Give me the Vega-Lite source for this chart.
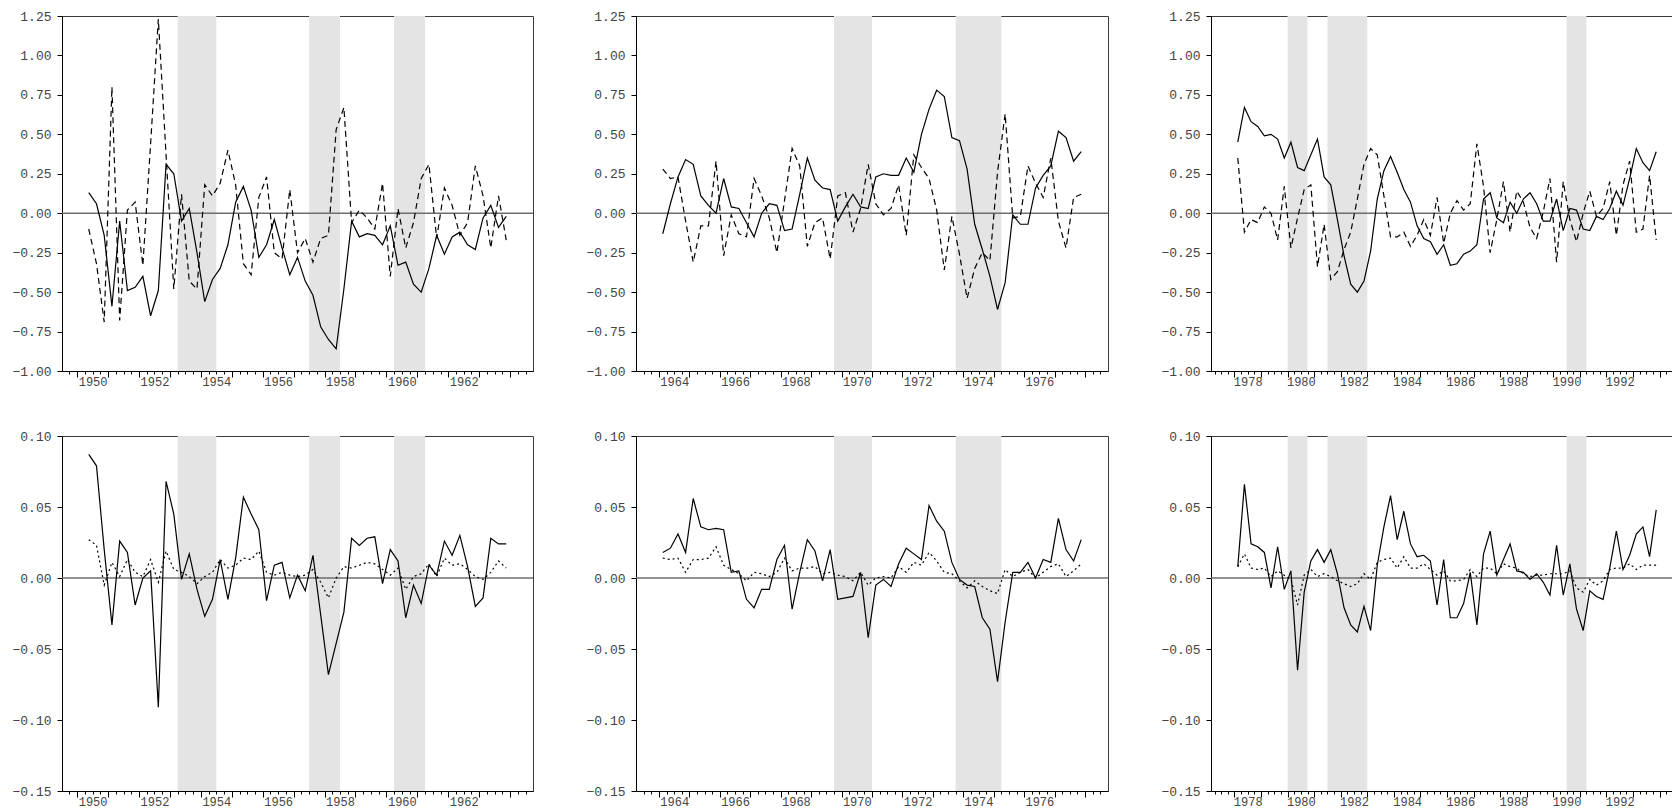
{
  "$schema": "https://vega.github.io/schema/vega-lite/v6.json",
  "padding": {"left": 5, "top": 9, "right": 0, "bottom": 0},
  "background": "white",
  "config": {
    "view": {"stroke": "#3c3c3c", "strokeWidth": 1},
    "axis": {"labelFont": "Liberation Mono", "labelColor": "#444444", "domainColor": "#000000", "tickColor": "#000000", "grid": false, "title": null, "labelOverlap": false},
    "line": {"color": "#000000", "strokeWidth": 1.2}
  },
  "datasets": {
    "rec": [
      {"p": 1, "start": 1953.25, "end": 1954.5},
      {"p": 1, "start": 1957.5, "end": 1958.5},
      {"p": 1, "start": 1960.25, "end": 1961.25},
      {"p": 2, "start": 1969.75, "end": 1971.0},
      {"p": 2, "start": 1973.75, "end": 1975.25},
      {"p": 3, "start": 1980.0, "end": 1980.75},
      {"p": 3, "start": 1981.5, "end": 1983.0},
      {"p": 3, "start": 1990.5, "end": 1991.25}
    ],
    "s": [
      {"p":1,"t":1950.375,"a":0.13,"b":-0.10,"c":0.087,"d":0.027},
      {"p":1,"t":1950.625,"a":0.06,"b":-0.32,"c":0.079,"d":0.023},
      {"p":1,"t":1950.875,"a":-0.14,"b":-0.69,"c":0.02,"d":-0.005},
      {"p":1,"t":1951.125,"a":-0.59,"b":0.80,"c":-0.033,"d":0.011},
      {"p":1,"t":1951.375,"a":-0.05,"b":-0.68,"c":0.026,"d":0.001},
      {"p":1,"t":1951.625,"a":-0.49,"b":0.02,"c":0.018,"d":0.013},
      {"p":1,"t":1951.875,"a":-0.47,"b":0.07,"c":-0.019,"d":0.004},
      {"p":1,"t":1952.125,"a":-0.40,"b":-0.33,"c":0.000,"d":0.001},
      {"p":1,"t":1952.375,"a":-0.65,"b":0.44,"c":0.005,"d":0.013},
      {"p":1,"t":1952.625,"a":-0.49,"b":1.23,"c":-0.091,"d":-0.003},
      {"p":1,"t":1952.875,"a":0.31,"b":0.37,"c":0.068,"d":0.019},
      {"p":1,"t":1953.125,"a":0.25,"b":-0.48,"c":0.045,"d":0.006},
      {"p":1,"t":1953.375,"a":-0.05,"b":0.12,"c":-0.001,"d":0.004},
      {"p":1,"t":1953.625,"a":0.03,"b":-0.43,"c":0.017,"d":0.001},
      {"p":1,"t":1953.875,"a":-0.25,"b":-0.48,"c":-0.008,"d":-0.004},
      {"p":1,"t":1954.125,"a":-0.56,"b":0.18,"c":-0.027,"d":0.001},
      {"p":1,"t":1954.375,"a":-0.42,"b":0.11,"c":-0.015,"d":0.004},
      {"p":1,"t":1954.625,"a":-0.35,"b":0.19,"c":0.013,"d":0.013},
      {"p":1,"t":1954.875,"a":-0.20,"b":0.40,"c":-0.015,"d":0.007},
      {"p":1,"t":1955.125,"a":0.07,"b":0.18,"c":0.014,"d":0.009},
      {"p":1,"t":1955.375,"a":0.17,"b":-0.32,"c":0.057,"d":0.014},
      {"p":1,"t":1955.625,"a":0.02,"b":-0.39,"c":0.045,"d":0.013},
      {"p":1,"t":1955.875,"a":-0.28,"b":0.10,"c":0.034,"d":0.019},
      {"p":1,"t":1956.125,"a":-0.20,"b":0.23,"c":-0.016,"d":0.004},
      {"p":1,"t":1956.375,"a":-0.04,"b":-0.25,"c":0.009,"d":0.002},
      {"p":1,"t":1956.625,"a":-0.22,"b":-0.29,"c":0.011,"d":0.004},
      {"p":1,"t":1956.875,"a":-0.39,"b":0.15,"c":-0.014,"d":0.002},
      {"p":1,"t":1957.125,"a":-0.28,"b":-0.25,"c":0.002,"d":0.001},
      {"p":1,"t":1957.375,"a":-0.43,"b":-0.16,"c":-0.009,"d":0.002},
      {"p":1,"t":1957.625,"a":-0.52,"b":-0.31,"c":0.016,"d":0.006},
      {"p":1,"t":1957.875,"a":-0.72,"b":-0.16,"c":-0.026,"d":-0.003},
      {"p":1,"t":1958.125,"a":-0.80,"b":-0.14,"c":-0.068,"d":-0.014},
      {"p":1,"t":1958.375,"a":-0.86,"b":0.53,"c":-0.046,"d":0.000},
      {"p":1,"t":1958.625,"a":-0.48,"b":0.67,"c":-0.024,"d":0.008},
      {"p":1,"t":1958.875,"a":-0.05,"b":-0.06,"c":0.028,"d":0.007},
      {"p":1,"t":1959.125,"a":-0.15,"b":0.02,"c":0.023,"d":0.009},
      {"p":1,"t":1959.375,"a":-0.13,"b":-0.03,"c":0.028,"d":0.011},
      {"p":1,"t":1959.625,"a":-0.14,"b":-0.10,"c":0.029,"d":0.010},
      {"p":1,"t":1959.875,"a":-0.20,"b":0.19,"c":-0.004,"d":0.006},
      {"p":1,"t":1960.125,"a":-0.08,"b":-0.40,"c":0.020,"d":0.002},
      {"p":1,"t":1960.375,"a":-0.33,"b":0.03,"c":0.012,"d":0.007},
      {"p":1,"t":1960.625,"a":-0.31,"b":-0.22,"c":-0.028,"d":-0.008},
      {"p":1,"t":1960.875,"a":-0.45,"b":-0.06,"c":-0.005,"d":0.001},
      {"p":1,"t":1961.125,"a":-0.50,"b":0.22,"c":-0.018,"d":0.003},
      {"p":1,"t":1961.375,"a":-0.35,"b":0.31,"c":0.009,"d":0.010},
      {"p":1,"t":1961.625,"a":-0.14,"b":-0.16,"c":0.002,"d":0.001},
      {"p":1,"t":1961.875,"a":-0.26,"b":0.16,"c":0.026,"d":0.014},
      {"p":1,"t":1962.125,"a":-0.15,"b":0.05,"c":0.016,"d":0.009},
      {"p":1,"t":1962.375,"a":-0.12,"b":-0.14,"c":0.030,"d":0.010},
      {"p":1,"t":1962.625,"a":-0.20,"b":-0.06,"c":0.008,"d":0.006},
      {"p":1,"t":1962.875,"a":-0.23,"b":0.30,"c":-0.020,"d":0.001},
      {"p":1,"t":1963.125,"a":-0.03,"b":0.11,"c":-0.014,"d":-0.001},
      {"p":1,"t":1963.375,"a":0.05,"b":-0.22,"c":0.028,"d":0.004},
      {"p":1,"t":1963.625,"a":-0.09,"b":0.11,"c":0.024,"d":0.012},
      {"p":1,"t":1963.875,"a":-0.02,"b":-0.17,"c":0.024,"d":0.007},
      {"p":2,"t":1964.125,"a":-0.13,"b":0.28,"c":0.018,"d":0.014},
      {"p":2,"t":1964.375,"a":0.06,"b":0.22,"c":0.021,"d":0.013},
      {"p":2,"t":1964.625,"a":0.23,"b":0.23,"c":0.031,"d":0.014},
      {"p":2,"t":1964.875,"a":0.34,"b":-0.05,"c":0.018,"d":0.004},
      {"p":2,"t":1965.125,"a":0.31,"b":-0.31,"c":0.056,"d":0.013},
      {"p":2,"t":1965.375,"a":0.11,"b":-0.08,"c":0.036,"d":0.013},
      {"p":2,"t":1965.625,"a":0.05,"b":-0.08,"c":0.034,"d":0.014},
      {"p":2,"t":1965.875,"a":0.00,"b":0.33,"c":0.035,"d":0.022},
      {"p":2,"t":1966.125,"a":0.22,"b":-0.27,"c":0.034,"d":0.009},
      {"p":2,"t":1966.375,"a":0.04,"b":-0.01,"c":0.004,"d":0.006},
      {"p":2,"t":1966.625,"a":0.03,"b":-0.13,"c":0.005,"d":0.003},
      {"p":2,"t":1966.875,"a":-0.06,"b":-0.15,"c":-0.015,"d":-0.002},
      {"p":2,"t":1967.125,"a":-0.15,"b":0.22,"c":-0.021,"d":0.004},
      {"p":2,"t":1967.375,"a":0.00,"b":0.11,"c":-0.008,"d":0.003},
      {"p":2,"t":1967.625,"a":0.06,"b":-0.03,"c":-0.008,"d":0.001},
      {"p":2,"t":1967.875,"a":0.05,"b":-0.25,"c":0.013,"d":0.004},
      {"p":2,"t":1968.125,"a":-0.11,"b":0.08,"c":0.023,"d":0.014},
      {"p":2,"t":1968.375,"a":-0.10,"b":0.41,"c":-0.022,"d":0.005},
      {"p":2,"t":1968.625,"a":0.12,"b":0.30,"c":0.004,"d":0.007},
      {"p":2,"t":1968.875,"a":0.35,"b":-0.21,"c":0.027,"d":0.007},
      {"p":2,"t":1969.125,"a":0.21,"b":-0.06,"c":0.019,"d":0.008},
      {"p":2,"t":1969.375,"a":0.16,"b":-0.03,"c":-0.002,"d":0.003},
      {"p":2,"t":1969.625,"a":0.15,"b":-0.29,"c":0.020,"d":0.004},
      {"p":2,"t":1969.875,"a":-0.05,"b":0.11,"c":-0.015,"d":0.002},
      {"p":2,"t":1970.125,"a":0.04,"b":0.13,"c":-0.014,"d":0.001},
      {"p":2,"t":1970.375,"a":0.12,"b":-0.12,"c":-0.013,"d":-0.002},
      {"p":2,"t":1970.625,"a":0.04,"b":0.03,"c":0.004,"d":0.004},
      {"p":2,"t":1970.875,"a":0.03,"b":0.31,"c":-0.042,"d":-0.005},
      {"p":2,"t":1971.125,"a":0.23,"b":0.06,"c":-0.005,"d":0.000},
      {"p":2,"t":1971.375,"a":0.25,"b":-0.01,"c":-0.001,"d":0.001},
      {"p":2,"t":1971.625,"a":0.24,"b":0.03,"c":-0.006,"d":0.000},
      {"p":2,"t":1971.875,"a":0.24,"b":0.18,"c":0.010,"d":0.008},
      {"p":2,"t":1972.125,"a":0.35,"b":-0.14,"c":0.021,"d":0.004},
      {"p":2,"t":1972.375,"a":0.26,"b":0.37,"c":0.017,"d":0.011},
      {"p":2,"t":1972.625,"a":0.50,"b":0.29,"c":0.013,"d":0.009},
      {"p":2,"t":1972.875,"a":0.66,"b":0.22,"c":0.051,"d":0.018},
      {"p":2,"t":1973.125,"a":0.78,"b":0.02,"c":0.040,"d":0.012},
      {"p":2,"t":1973.375,"a":0.74,"b":-0.36,"c":0.033,"d":0.004},
      {"p":2,"t":1973.625,"a":0.48,"b":-0.02,"c":0.011,"d":0.003},
      {"p":2,"t":1973.875,"a":0.46,"b":-0.26,"c":-0.001,"d":-0.002},
      {"p":2,"t":1974.125,"a":0.28,"b":-0.54,"c":-0.005,"d":-0.007},
      {"p":2,"t":1974.375,"a":-0.07,"b":-0.35,"c":-0.006,"d":-0.002},
      {"p":2,"t":1974.625,"a":-0.23,"b":-0.25,"c":-0.028,"d":-0.006},
      {"p":2,"t":1974.875,"a":-0.40,"b":-0.30,"c":-0.036,"d":-0.009},
      {"p":2,"t":1975.125,"a":-0.61,"b":0.26,"c":-0.073,"d":-0.011},
      {"p":2,"t":1975.375,"a":-0.44,"b":0.63,"c":-0.031,"d":0.006},
      {"p":2,"t":1975.625,"a":-0.01,"b":-0.03,"c":0.004,"d":0.001},
      {"p":2,"t":1975.875,"a":-0.07,"b":-0.02,"c":0.004,"d":0.004},
      {"p":2,"t":1976.125,"a":-0.07,"b":0.30,"c":0.011,"d":0.006},
      {"p":2,"t":1976.375,"a":0.16,"b":0.19,"c":0.000,"d":0.000},
      {"p":2,"t":1976.625,"a":0.24,"b":0.10,"c":0.013,"d":0.004},
      {"p":2,"t":1976.875,"a":0.30,"b":0.35,"c":0.011,"d":0.008},
      {"p":2,"t":1977.125,"a":0.52,"b":-0.05,"c":0.042,"d":0.010},
      {"p":2,"t":1977.375,"a":0.48,"b":-0.22,"c":0.020,"d":0.001},
      {"p":2,"t":1977.625,"a":0.33,"b":0.10,"c":0.012,"d":0.005},
      {"p":2,"t":1977.875,"a":0.39,"b":0.12,"c":0.027,"d":0.010},
      {"p":3,"t":1978.125,"a":0.45,"b":0.35,"c":0.008,"d":0.008},
      {"p":3,"t":1978.375,"a":0.67,"b":-0.12,"c":0.066,"d":0.017},
      {"p":3,"t":1978.625,"a":0.58,"b":-0.04,"c":0.024,"d":0.007},
      {"p":3,"t":1978.875,"a":0.55,"b":-0.06,"c":0.022,"d":0.006},
      {"p":3,"t":1979.125,"a":0.49,"b":0.04,"c":0.018,"d":0.007},
      {"p":3,"t":1979.375,"a":0.50,"b":0.00,"c":-0.007,"d":0.001},
      {"p":3,"t":1979.625,"a":0.47,"b":-0.17,"c":0.022,"d":0.005},
      {"p":3,"t":1979.875,"a":0.35,"b":0.17,"c":-0.008,"d":0.002},
      {"p":3,"t":1980.125,"a":0.45,"b":-0.22,"c":0.005,"d":-0.001},
      {"p":3,"t":1980.375,"a":0.29,"b":-0.03,"c":-0.065,"d":-0.019},
      {"p":3,"t":1980.625,"a":0.27,"b":0.15,"c":-0.010,"d":0.002},
      {"p":3,"t":1980.875,"a":0.37,"b":0.18,"c":0.012,"d":0.006},
      {"p":3,"t":1981.125,"a":0.47,"b":-0.34,"c":0.020,"d":0.001},
      {"p":3,"t":1981.375,"a":0.23,"b":-0.07,"c":0.011,"d":0.003},
      {"p":3,"t":1981.625,"a":0.18,"b":-0.42,"c":0.020,"d":0.001},
      {"p":3,"t":1981.875,"a":-0.04,"b":-0.37,"c":0.003,"d":-0.002},
      {"p":3,"t":1982.125,"a":-0.27,"b":-0.23,"c":-0.021,"d":-0.004},
      {"p":3,"t":1982.375,"a":-0.45,"b":-0.12,"c":-0.033,"d":-0.006},
      {"p":3,"t":1982.625,"a":-0.50,"b":0.09,"c":-0.038,"d":-0.004},
      {"p":3,"t":1982.875,"a":-0.43,"b":0.31,"c":-0.020,"d":0.003},
      {"p":3,"t":1983.125,"a":-0.24,"b":0.41,"c":-0.037,"d":-0.001},
      {"p":3,"t":1983.375,"a":0.09,"b":0.37,"c":0.009,"d":0.011},
      {"p":3,"t":1983.625,"a":0.27,"b":0.11,"c":0.036,"d":0.013},
      {"p":3,"t":1983.875,"a":0.36,"b":-0.15,"c":0.058,"d":0.014},
      {"p":3,"t":1984.125,"a":0.26,"b":-0.15,"c":0.027,"d":0.007},
      {"p":3,"t":1984.375,"a":0.15,"b":-0.12,"c":0.047,"d":0.015},
      {"p":3,"t":1984.625,"a":0.07,"b":-0.21,"c":0.024,"d":0.007},
      {"p":3,"t":1984.875,"a":-0.08,"b":-0.14,"c":0.015,"d":0.007},
      {"p":3,"t":1985.125,"a":-0.16,"b":-0.04,"c":0.016,"d":0.010},
      {"p":3,"t":1985.375,"a":-0.18,"b":-0.14,"c":0.012,"d":0.006},
      {"p":3,"t":1985.625,"a":-0.26,"b":0.10,"c":-0.019,"d":0.002},
      {"p":3,"t":1985.875,"a":-0.20,"b":-0.19,"c":0.013,"d":0.005},
      {"p":3,"t":1986.125,"a":-0.33,"b":0.00,"c":-0.028,"d":-0.002},
      {"p":3,"t":1986.375,"a":-0.32,"b":0.08,"c":-0.028,"d":-0.002},
      {"p":3,"t":1986.625,"a":-0.26,"b":0.02,"c":-0.018,"d":-0.001},
      {"p":3,"t":1986.875,"a":-0.24,"b":0.06,"c":0.004,"d":0.006},
      {"p":3,"t":1987.125,"a":-0.20,"b":0.44,"c":-0.033,"d":0.001},
      {"p":3,"t":1987.375,"a":0.09,"b":0.17,"c":0.017,"d":0.007},
      {"p":3,"t":1987.625,"a":0.13,"b":-0.25,"c":0.033,"d":0.007},
      {"p":3,"t":1987.875,"a":-0.03,"b":-0.04,"c":0.002,"d":0.003},
      {"p":3,"t":1988.125,"a":-0.06,"b":0.20,"c":0.013,"d":0.010},
      {"p":3,"t":1988.375,"a":0.07,"b":-0.12,"c":0.024,"d":0.008},
      {"p":3,"t":1988.625,"a":0.00,"b":0.14,"c":0.005,"d":0.007},
      {"p":3,"t":1988.875,"a":0.09,"b":0.07,"c":0.004,"d":0.003},
      {"p":3,"t":1989.125,"a":0.13,"b":-0.09,"c":-0.001,"d":0.001},
      {"p":3,"t":1989.375,"a":0.06,"b":-0.16,"c":0.003,"d":0.002},
      {"p":3,"t":1989.625,"a":-0.05,"b":0.01,"c":-0.003,"d":0.002},
      {"p":3,"t":1989.875,"a":-0.05,"b":0.22,"c":-0.012,"d":0.003},
      {"p":3,"t":1990.125,"a":0.09,"b":-0.31,"c":0.023,"d":0.003},
      {"p":3,"t":1990.375,"a":-0.11,"b":0.20,"c":-0.012,"d":0.003},
      {"p":3,"t":1990.625,"a":0.03,"b":-0.04,"c":0.010,"d":0.005},
      {"p":3,"t":1990.875,"a":0.02,"b":-0.18,"c":-0.022,"d":-0.007},
      {"p":3,"t":1991.125,"a":-0.10,"b":0.00,"c":-0.037,"d":-0.010},
      {"p":3,"t":1991.375,"a":-0.11,"b":0.14,"c":-0.009,"d":-0.001},
      {"p":3,"t":1991.625,"a":-0.02,"b":-0.02,"c":-0.013,"d":-0.005},
      {"p":3,"t":1991.875,"a":-0.04,"b":0.03,"c":-0.015,"d":-0.002},
      {"p":3,"t":1992.125,"a":0.03,"b":0.20,"c":0.007,"d":0.006},
      {"p":3,"t":1992.375,"a":0.14,"b":-0.14,"c":0.033,"d":0.007},
      {"p":3,"t":1992.625,"a":0.05,"b":0.18,"c":0.006,"d":0.007},
      {"p":3,"t":1992.875,"a":0.22,"b":0.33,"c":0.016,"d":0.010},
      {"p":3,"t":1993.125,"a":0.41,"b":-0.12,"c":0.031,"d":0.006},
      {"p":3,"t":1993.375,"a":0.32,"b":-0.10,"c":0.036,"d":0.009},
      {"p":3,"t":1993.625,"a":0.27,"b":0.24,"c":0.015,"d":0.009},
      {"p":3,"t":1993.875,"a":0.39,"b":-0.17,"c":0.048,"d":0.009}
    ]
  },
  "columns": 3,
  "spacing": {"row": 33, "column": 44},
  "concat": [
    {
      "width": 471, "height": 355,
      "layer": [
        {"data": {"name": "rec"}, "transform": [{"filter": "datum.p == 1"}], "mark": {"type": "rect", "color": "#e4e4e4"},
         "encoding": {"x": {"field": "start", "type": "quantitative"}, "x2": {"field": "end"}}},
        {"data": {"values": [{"z": 0}]}, "mark": {"type": "rule", "color": "#6e6e6e", "strokeWidth": 1.5}, "encoding": {"y": {"datum": 0, "type": "quantitative"}}},
        {"data": {"name": "s"}, "transform": [{"filter": "datum.p == 1"}], "mark": {"type": "line"},
         "encoding": {
           "x": {"field": "t", "type": "quantitative", "scale": {"domain": [1949.51, 1964.74], "nice": false, "zero": false},
                 "axis": {"labelOverlap": false, "tickCount": 500, "minExtent": 24, "labelFontSize": 12, "labelPadding": 2, "values": [1949.75,1950,1950.25,1950.5,1950.75,1951,1951.25,1951.5,1951.75,1952,1952.25,1952.5,1952.75,1953,1953.25,1953.5,1953.75,1954,1954.25,1954.5,1954.75,1955,1955.25,1955.5,1955.75,1956,1956.25,1956.5,1956.75,1957,1957.25,1957.5,1957.75,1958,1958.25,1958.5,1958.75,1959,1959.25,1959.5,1959.75,1960,1960.25,1960.5,1960.75,1961,1961.25,1961.5,1961.75,1962,1962.25,1962.5,1962.75,1963,1963.25,1963.5,1963.75,1964,1964.25,1964.5],
                          "labelExpr": "datum.value % 2 == 0.5 && datum.value < 1963 ? format(floor(datum.value), 'd') : ''",
                          "tickSize": {"condition": {"test": "datum.value % 1 == 0", "value": 6}, "value": 3}}},
           "y": {"field": "a", "type": "quantitative", "scale": {"domain": [-1, 1.25], "nice": false, "zero": false},
                 "axis": {"labelOverlap": false, "tickCount": 500, "minExtent": 56, "labelFontSize": 13, "values": [-1,-0.75,-0.5,-0.25,0,0.25,0.5,0.75,1,1.25], "format": ".2f", "tickSize": 5, "labelPadding": 6}}}},
        {"data": {"name": "s"}, "transform": [{"filter": "datum.p == 1"}], "mark": {"type": "line", "strokeDash": [6, 4]},
         "encoding": {"x": {"field": "t", "type": "quantitative"}, "y": {"field": "b", "type": "quantitative"}}}
      ]
    },
    {
      "width": 472, "height": 355,
      "layer": [
        {"data": {"name": "rec"}, "transform": [{"filter": "datum.p == 2"}], "mark": {"type": "rect", "color": "#e4e4e4"},
         "encoding": {"x": {"field": "start", "type": "quantitative"}, "x2": {"field": "end"}}},
        {"data": {"values": [{"z": 0}]}, "mark": {"type": "rule", "color": "#6e6e6e", "strokeWidth": 1.5}, "encoding": {"y": {"datum": 0, "type": "quantitative"}}},
        {"data": {"name": "s"}, "transform": [{"filter": "datum.p == 2"}], "mark": {"type": "line"},
         "encoding": {
           "x": {"field": "t", "type": "quantitative", "scale": {"domain": [1963.245, 1978.755], "nice": false, "zero": false},
                 "axis": {"labelOverlap": false, "tickCount": 500, "minExtent": 24, "labelFontSize": 12, "labelPadding": 2, "values": [1963.5,1963.75,1964,1964.25,1964.5,1964.75,1965,1965.25,1965.5,1965.75,1966,1966.25,1966.5,1966.75,1967,1967.25,1967.5,1967.75,1968,1968.25,1968.5,1968.75,1969,1969.25,1969.5,1969.75,1970,1970.25,1970.5,1970.75,1971,1971.25,1971.5,1971.75,1972,1972.25,1972.5,1972.75,1973,1973.25,1973.5,1973.75,1974,1974.25,1974.5,1974.75,1975,1975.25,1975.5,1975.75,1976,1976.25,1976.5,1976.75,1977,1977.25,1977.5,1977.75,1978,1978.25,1978.5],
                          "labelExpr": "datum.value % 2 == 0.5 && datum.value < 1977 ? format(floor(datum.value), 'd') : ''",
                          "tickSize": {"condition": {"test": "datum.value % 1 == 0", "value": 6}, "value": 3}}},
           "y": {"field": "a", "type": "quantitative", "scale": {"domain": [-1, 1.25], "nice": false, "zero": false},
                 "axis": {"labelOverlap": false, "tickCount": 500, "minExtent": 56, "labelFontSize": 13, "values": [-1,-0.75,-0.5,-0.25,0,0.25,0.5,0.75,1,1.25], "format": ".2f", "tickSize": 5, "labelPadding": 6}}}},
        {"data": {"name": "s"}, "transform": [{"filter": "datum.p == 2"}], "mark": {"type": "line", "strokeDash": [6, 4]},
         "encoding": {"x": {"field": "t", "type": "quantitative"}, "y": {"field": "b", "type": "quantitative"}}}
      ]
    },
    {
      "width": 472, "height": 355,
      "layer": [
        {"data": {"name": "rec"}, "transform": [{"filter": "datum.p == 3"}], "mark": {"type": "rect", "color": "#e4e4e4"},
         "encoding": {"x": {"field": "start", "type": "quantitative"}, "x2": {"field": "end"}}},
        {"data": {"values": [{"z": 0}]}, "mark": {"type": "rule", "color": "#6e6e6e", "strokeWidth": 1.5}, "encoding": {"y": {"datum": 0, "type": "quantitative"}}},
        {"data": {"name": "s"}, "transform": [{"filter": "datum.p == 3"}], "mark": {"type": "line"},
         "encoding": {
           "x": {"field": "t", "type": "quantitative", "scale": {"domain": [1977.117, 1994.883], "nice": false, "zero": false},
                 "axis": {"labelOverlap": false, "tickCount": 500, "minExtent": 24, "labelFontSize": 12, "labelPadding": 2, "values": [1977.25,1977.5,1977.75,1978,1978.25,1978.5,1978.75,1979,1979.25,1979.5,1979.75,1980,1980.25,1980.5,1980.75,1981,1981.25,1981.5,1981.75,1982,1982.25,1982.5,1982.75,1983,1983.25,1983.5,1983.75,1984,1984.25,1984.5,1984.75,1985,1985.25,1985.5,1985.75,1986,1986.25,1986.5,1986.75,1987,1987.25,1987.5,1987.75,1988,1988.25,1988.5,1988.75,1989,1989.25,1989.5,1989.75,1990,1990.25,1990.5,1990.75,1991,1991.25,1991.5,1991.75,1992,1992.25,1992.5,1992.75,1993,1993.25,1993.5,1993.75,1994,1994.25,1994.5,1994.75],
                          "labelExpr": "datum.value % 2 == 0.5 && datum.value < 1993 ? format(floor(datum.value), 'd') : ''",
                          "tickSize": {"condition": {"test": "datum.value % 1 == 0", "value": 6}, "value": 3}}},
           "y": {"field": "a", "type": "quantitative", "scale": {"domain": [-1, 1.25], "nice": false, "zero": false},
                 "axis": {"labelOverlap": false, "tickCount": 500, "minExtent": 56, "labelFontSize": 13, "values": [-1,-0.75,-0.5,-0.25,0,0.25,0.5,0.75,1,1.25], "format": ".2f", "tickSize": 5, "labelPadding": 6}}}},
        {"data": {"name": "s"}, "transform": [{"filter": "datum.p == 3"}], "mark": {"type": "line", "strokeDash": [6, 4]},
         "encoding": {"x": {"field": "t", "type": "quantitative"}, "y": {"field": "b", "type": "quantitative"}}}
      ]
    },
    {
      "width": 471, "height": 355,
      "layer": [
        {"data": {"name": "rec"}, "transform": [{"filter": "datum.p == 1"}], "mark": {"type": "rect", "color": "#e4e4e4"},
         "encoding": {"x": {"field": "start", "type": "quantitative"}, "x2": {"field": "end"}}},
        {"data": {"values": [{"z": 0}]}, "mark": {"type": "rule", "color": "#6e6e6e", "strokeWidth": 1.5}, "encoding": {"y": {"datum": 0, "type": "quantitative"}}},
        {"data": {"name": "s"}, "transform": [{"filter": "datum.p == 1"}], "mark": {"type": "line"},
         "encoding": {
           "x": {"field": "t", "type": "quantitative", "scale": {"domain": [1949.51, 1964.74], "nice": false, "zero": false},
                 "axis": {"labelOverlap": false, "tickCount": 500, "minExtent": 24, "labelFontSize": 12, "labelPadding": 2, "values": [1949.75,1950,1950.25,1950.5,1950.75,1951,1951.25,1951.5,1951.75,1952,1952.25,1952.5,1952.75,1953,1953.25,1953.5,1953.75,1954,1954.25,1954.5,1954.75,1955,1955.25,1955.5,1955.75,1956,1956.25,1956.5,1956.75,1957,1957.25,1957.5,1957.75,1958,1958.25,1958.5,1958.75,1959,1959.25,1959.5,1959.75,1960,1960.25,1960.5,1960.75,1961,1961.25,1961.5,1961.75,1962,1962.25,1962.5,1962.75,1963,1963.25,1963.5,1963.75,1964,1964.25,1964.5],
                          "labelExpr": "datum.value % 2 == 0.5 && datum.value < 1963 ? format(floor(datum.value), 'd') : ''",
                          "tickSize": {"condition": {"test": "datum.value % 1 == 0", "value": 6}, "value": 3}}},
           "y": {"field": "c", "type": "quantitative", "scale": {"domain": [-0.15, 0.1], "nice": false, "zero": false},
                 "axis": {"labelOverlap": false, "tickCount": 500, "minExtent": 56, "labelFontSize": 13, "values": [-0.15,-0.1,-0.05,0,0.05,0.1], "format": ".2f", "tickSize": 5, "labelPadding": 6}}}},
        {"data": {"name": "s"}, "transform": [{"filter": "datum.p == 1"}], "mark": {"type": "line", "strokeDash": [2, 3]},
         "encoding": {"x": {"field": "t", "type": "quantitative"}, "y": {"field": "d", "type": "quantitative"}}}
      ]
    },
    {
      "width": 472, "height": 355,
      "layer": [
        {"data": {"name": "rec"}, "transform": [{"filter": "datum.p == 2"}], "mark": {"type": "rect", "color": "#e4e4e4"},
         "encoding": {"x": {"field": "start", "type": "quantitative"}, "x2": {"field": "end"}}},
        {"data": {"values": [{"z": 0}]}, "mark": {"type": "rule", "color": "#6e6e6e", "strokeWidth": 1.5}, "encoding": {"y": {"datum": 0, "type": "quantitative"}}},
        {"data": {"name": "s"}, "transform": [{"filter": "datum.p == 2"}], "mark": {"type": "line"},
         "encoding": {
           "x": {"field": "t", "type": "quantitative", "scale": {"domain": [1963.245, 1978.755], "nice": false, "zero": false},
                 "axis": {"labelOverlap": false, "tickCount": 500, "minExtent": 24, "labelFontSize": 12, "labelPadding": 2, "values": [1963.5,1963.75,1964,1964.25,1964.5,1964.75,1965,1965.25,1965.5,1965.75,1966,1966.25,1966.5,1966.75,1967,1967.25,1967.5,1967.75,1968,1968.25,1968.5,1968.75,1969,1969.25,1969.5,1969.75,1970,1970.25,1970.5,1970.75,1971,1971.25,1971.5,1971.75,1972,1972.25,1972.5,1972.75,1973,1973.25,1973.5,1973.75,1974,1974.25,1974.5,1974.75,1975,1975.25,1975.5,1975.75,1976,1976.25,1976.5,1976.75,1977,1977.25,1977.5,1977.75,1978,1978.25,1978.5],
                          "labelExpr": "datum.value % 2 == 0.5 && datum.value < 1977 ? format(floor(datum.value), 'd') : ''",
                          "tickSize": {"condition": {"test": "datum.value % 1 == 0", "value": 6}, "value": 3}}},
           "y": {"field": "c", "type": "quantitative", "scale": {"domain": [-0.15, 0.1], "nice": false, "zero": false},
                 "axis": {"labelOverlap": false, "tickCount": 500, "minExtent": 56, "labelFontSize": 13, "values": [-0.15,-0.1,-0.05,0,0.05,0.1], "format": ".2f", "tickSize": 5, "labelPadding": 6}}}},
        {"data": {"name": "s"}, "transform": [{"filter": "datum.p == 2"}], "mark": {"type": "line", "strokeDash": [2, 3]},
         "encoding": {"x": {"field": "t", "type": "quantitative"}, "y": {"field": "d", "type": "quantitative"}}}
      ]
    },
    {
      "width": 472, "height": 355,
      "layer": [
        {"data": {"name": "rec"}, "transform": [{"filter": "datum.p == 3"}], "mark": {"type": "rect", "color": "#e4e4e4"},
         "encoding": {"x": {"field": "start", "type": "quantitative"}, "x2": {"field": "end"}}},
        {"data": {"values": [{"z": 0}]}, "mark": {"type": "rule", "color": "#6e6e6e", "strokeWidth": 1.5}, "encoding": {"y": {"datum": 0, "type": "quantitative"}}},
        {"data": {"name": "s"}, "transform": [{"filter": "datum.p == 3"}], "mark": {"type": "line"},
         "encoding": {
           "x": {"field": "t", "type": "quantitative", "scale": {"domain": [1977.117, 1994.883], "nice": false, "zero": false},
                 "axis": {"labelOverlap": false, "tickCount": 500, "minExtent": 24, "labelFontSize": 12, "labelPadding": 2, "values": [1977.25,1977.5,1977.75,1978,1978.25,1978.5,1978.75,1979,1979.25,1979.5,1979.75,1980,1980.25,1980.5,1980.75,1981,1981.25,1981.5,1981.75,1982,1982.25,1982.5,1982.75,1983,1983.25,1983.5,1983.75,1984,1984.25,1984.5,1984.75,1985,1985.25,1985.5,1985.75,1986,1986.25,1986.5,1986.75,1987,1987.25,1987.5,1987.75,1988,1988.25,1988.5,1988.75,1989,1989.25,1989.5,1989.75,1990,1990.25,1990.5,1990.75,1991,1991.25,1991.5,1991.75,1992,1992.25,1992.5,1992.75,1993,1993.25,1993.5,1993.75,1994,1994.25,1994.5,1994.75],
                          "labelExpr": "datum.value % 2 == 0.5 && datum.value < 1993 ? format(floor(datum.value), 'd') : ''",
                          "tickSize": {"condition": {"test": "datum.value % 1 == 0", "value": 6}, "value": 3}}},
           "y": {"field": "c", "type": "quantitative", "scale": {"domain": [-0.15, 0.1], "nice": false, "zero": false},
                 "axis": {"labelOverlap": false, "tickCount": 500, "minExtent": 56, "labelFontSize": 13, "values": [-0.15,-0.1,-0.05,0,0.05,0.1], "format": ".2f", "tickSize": 5, "labelPadding": 6}}}},
        {"data": {"name": "s"}, "transform": [{"filter": "datum.p == 3"}], "mark": {"type": "line", "strokeDash": [2, 3]},
         "encoding": {"x": {"field": "t", "type": "quantitative"}, "y": {"field": "d", "type": "quantitative"}}}
      ]
    }
  ]
}
